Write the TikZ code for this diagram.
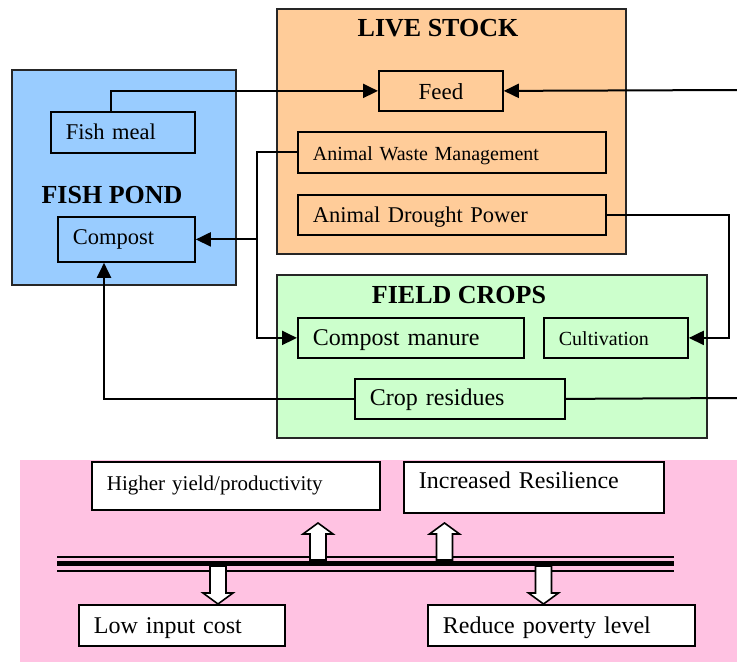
\documentclass[tikz,border=0pt]{standalone}
\usepackage{fontspec}
\setmainfont{Liberation Serif}
\usetikzlibrary{arrows.meta,calc}
\definecolor{stockc}{RGB}{255,204,153}
\definecolor{pondc}{RGB}{153,204,255}
\definecolor{cropc}{RGB}{204,255,204}
\definecolor{pinkc}{RGB}{255,194,226}
\newcommand{\blkup}[1]{\draw[blk] (#1-8,560) -- (#1-8,534) -- (#1-15,534) -- (#1,523) -- (#1+15,534) -- (#1+8,534) -- (#1+8,560) -- cycle;}
\newcommand{\blkdown}[1]{\draw[blk] (#1-8,566) -- (#1-8,593) -- (#1-15,593) -- (#1,604) -- (#1+15,593) -- (#1+8,593) -- (#1+8,566) -- cycle;}
\begin{document}
\begin{tikzpicture}[x=1pt,y=-1pt,
  container/.style={draw=black!85,line width=1.8pt},
  bx/.style={draw,line width=1.8pt,anchor=north west,inner xsep=15pt,inner ysep=0pt,align=left,text depth=0pt},
  ttl/.style={font=\bfseries\fontsize{26}{30}\selectfont},
  conn/.style={line width=2pt,-{Triangle[length=15pt,width=14pt]}},
  plain/.style={line width=2pt},
  blk/.style={draw,fill=white,line width=1.6pt,line join=miter}]
\useasboundingbox (0,0) rectangle (737,664);
% containers
\draw[container,fill=stockc] (277,9) rectangle (626,254);
\draw[container,fill=pondc] (12,70) rectangle (236,285);
\draw[container,fill=cropc] (277,275) rectangle (707,438);
\fill[pinkc] (20,460) rectangle (737,662);
% titles
\node[ttl] (tstock) at (438,28) {LIVE STOCK};
\node[ttl] (tpond) at (112,195) {FISH POND};
\node[ttl] (tcrop) at (459,295) {FIELD CROPS};
% boxes
\node[bx,fill=pondc,text width=114pt,minimum height=41pt,text height=15pt,font=\fontsize{22.5}{26}\selectfont] (fishmeal) at (50,111) {Fish meal};
\node[bx,fill=pondc,text width=107pt,minimum height=45pt,text height=11pt,font=\fontsize{22.5}{26}\selectfont] (compost) at (57,216) {Compost};
\node[bx,fill=stockc,text width=94pt,minimum height=40pt,text height=16.5pt,align=center,font=\fontsize{23}{26}\selectfont] (feed) at (378,70) {Feed};
\node[bx,fill=stockc,text width=278pt,minimum height=41pt,text height=16pt,font=\fontsize{20}{24}\selectfont] (awm) at (297,131) {Animal Waste Management};
\node[bx,fill=stockc,text width=278pt,minimum height=40pt,text height=16pt,font=\fontsize{22.5}{26}\selectfont] (adp) at (297,194) {Animal Drought Power};
\node[bx,fill=cropc,text width=196pt,minimum height=40pt,text height=16pt,font=\fontsize{24}{28}\selectfont] (cman) at (297,317) {Compost manure};
\node[bx,fill=cropc,text width=114pt,minimum height=40pt,text height=16pt,font=\fontsize{20}{24}\selectfont] (cult) at (543,317) {Cultivation};
\node[bx,fill=cropc,text width=180pt,minimum height=40pt,text height=14pt,font=\fontsize{24}{28}\selectfont] (cres) at (354,378) {Crop residues};
% outcome boxes
\node[bx,fill=white,text width=258pt,minimum height=48pt,text height=10pt,font=\fontsize{21}{24}\selectfont] (hy) at (91,461) {Higher yield/productivity};
\node[bx,fill=white,text width=230pt,minimum height=51pt,text height=2pt,font=\fontsize{24}{28}\selectfont] (ir) at (403,461) {Increased Resilience};
\node[bx,fill=white,text width=176pt,minimum height=41pt,text height=16.8pt,font=\fontsize{24}{28}\selectfont] (lic) at (78,604) {Low input cost};
\node[bx,fill=white,text width=237pt,minimum height=41pt,text height=16.8pt,font=\fontsize{24}{28}\selectfont] (rpl) at (427,604) {Reduce poverty level};
% connectors
\coordinate (eFeed) at (737,90);
\coordinate (eCres) at (737,398);
\draw[conn] ([xshift=61pt]fishmeal.north west) |- (feed.west);
\draw[conn] (eFeed) -- (feed.east);
\draw[conn] (awm.west) -- ++(-40,0) coordinate (j1) |- (cman.west);
\draw[conn] (j1 |- compost.east) -- (compost.east);
\draw[conn] (adp.east) -- ++(122,0) |- (cult.east);
\draw[conn] (cres.west) -| ([xshift=47pt]compost.south west);
\draw[plain] (cres.east) -- (eCres);
% bar lines
\draw[line width=2pt] (57,557) -- (674,557);
\draw[line width=5pt] (57,563.5) -- (674,563.5);
\draw[line width=2pt] (57,571) -- (674,571);
% block arrows
\blkup{318}
\blkup{444.5}
\blkdown{218}
\blkdown{543.5}
\end{tikzpicture}
\end{document}
